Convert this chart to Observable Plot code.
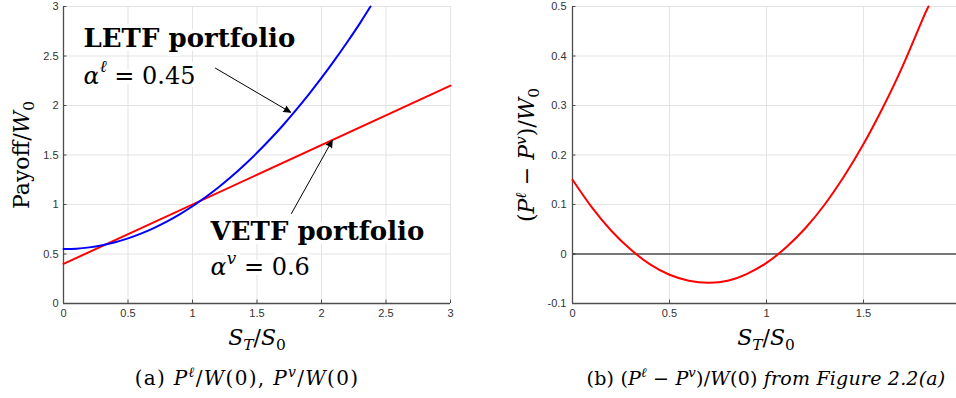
<!DOCTYPE html>
<html>
<head>
<meta charset="utf-8">
<script src="https://cdn.jsdelivr.net/npm/d3@7"></script>
<script src="https://cdn.jsdelivr.net/npm/@observablehq/plot@0.6"></script>
<style>
html, body { margin: 0; padding: 0; background: #fff; overflow: hidden; }
#wrap { position: relative; width: 956px; height: 398px; overflow: hidden; background: #fff; }
.panel { position: absolute; top: 0; }
.panel svg { max-width: none !important; display: block; }
.lbl { position: absolute; font-family: "DejaVu Serif", serif; color: #000; white-space: nowrap; line-height: 1; }
.lbl sub, .lbl sup { font-size: 70%; line-height: 0; }
.rot { transform: translate(-50%, -50%) rotate(-90deg); }
.ctr { transform: translate(-50%, -50%); }
</style>
</head>
<body>
<div id="wrap">
  <div class="panel" id="pa" style="left:0;width:480px"></div>
  <div class="panel" id="pb" style="left:480px;width:500px"></div>

  <div class="lbl rot" style="left:22px;top:155px;font-size:22px">Payoff/<i>W</i><sub>0</sub></div>
  <div class="lbl rot" style="left:527px;top:155px;font-size:22px">(<i>P</i><sup><i>ℓ</i></sup> − <i>P</i><sup><i>v</i></sup>)/<i>W</i><sub>0</sub></div>

  <div class="lbl ctr" style="left:257px;top:338px;font-size:22px"><i>S</i><sub><i>T</i></sub>/<i>S</i><sub>0</sub></div>
  <div class="lbl ctr" style="left:766px;top:338px;font-size:22px"><i>S</i><sub><i>T</i></sub>/<i>S</i><sub>0</sub></div>

  <div class="lbl ctr" style="left:247px;top:378px;font-size:20px;letter-spacing:1.3px">(a) <i>P</i><sup><i>ℓ</i></sup>/<i>W</i>(0), <i>P</i><sup><i>v</i></sup>/<i>W</i>(0)</div>
  <div class="lbl ctr" style="left:766px;top:378px;font-size:19px;letter-spacing:0.2px">(b) (<i>P</i><sup><i>ℓ</i></sup> − <i>P</i><sup><i>v</i></sup>)/<i>W</i>(0) <i>from Figure 2.2(a)</i></div>
</div>
<script>
// ---- Panel (a): payoffs ----
const letfX = [0, 0.1, 0.2, 0.3, 0.4, 0.5, 0.6, 0.7, 0.8, 0.9, 1.0, 1.1, 1.2, 1.3, 1.4, 1.5, 1.6, 1.7, 1.8, 1.9, 2.0, 2.1, 2.2, 2.3, 2.38];
const letfY = [0.55, 0.554, 0.567, 0.589, 0.619, 0.658, 0.706, 0.762, 0.826, 0.900, 0.982, 1.073, 1.172, 1.280, 1.397, 1.522, 1.656, 1.798, 1.950, 2.110, 2.278, 2.455, 2.641, 2.835, 3.0];
const vetfX = [0, 3];
const vetfY = [0.4, 2.2];

// ---- Panel (b): difference ----
const diffX = [0, 0.1, 0.2, 0.3, 0.4, 0.5, 0.6, 0.7, 0.8, 0.9, 1.0, 1.1, 1.2, 1.3, 1.4, 1.5, 1.6, 1.7, 1.8, 1.835];
const diffY = [0.15, 0.094, 0.047, 0.009, -0.021, -0.042, -0.054, -0.058, -0.054, -0.040, -0.018, 0.013, 0.052, 0.100, 0.157, 0.222, 0.296, 0.378, 0.470, 0.5];

// ---- Ticks ----
const xTicksA = [0, 0.5, 1, 1.5, 2, 2.5, 3];
const yTicksA = [0, 0.5, 1, 1.5, 2, 2.5, 3];
const xTicksB = [0, 0.5, 1, 1.5, 2];
const yTicksB = [-0.1, 0, 0.1, 0.2, 0.3, 0.4, 0.5];

// ---- Annotations (panel a, data coordinates) ----
const titleText = ["LETF portfolio", "VETF portfolio"];
const titleX = [0.155, 1.14];
const titleY = [2.586, 0.646];
const alphaText = ["*α*^{ℓ} = 0.45", "*α*^{v} = 0.6"];
const alphaX = [0.155, 1.14];
const alphaY = [2.222, 0.283];
const arrowX1 = [1.178, 1.767];
const arrowY1 = [2.377, 0.909];
const arrowX2 = [1.76, 2.083];
const arrowY2 = [1.932, 1.646];

const zip = (xs, ys) => xs.map((x, i) => ({x, y: ys[i]}));
const letf = zip(letfX, letfY);
const vetf = zip(vetfX, vetfY);
const diff = zip(diffX, diffY);
const titles = titleText.map((t, i) => ({t, x: titleX[i], y: titleY[i]}));
const alphas = alphaText.map((t, i) => ({t, x: alphaX[i], y: alphaY[i]}));
const arrows = arrowX1.map((_, i) => ({x1: arrowX1[i], y1: arrowY1[i], x2: arrowX2[i], y2: arrowY2[i]}));

const GRID = "#e3e3e3";
const AXIS = "#4d4d4d";
const baseStyle = {fontFamily: "'Liberation Sans', Arial, sans-serif", fontSize: "11px", color: "#333", background: "transparent", overflow: "visible"};

function richify(svg, fs) {
  svg.querySelectorAll("text").forEach(t => {
    const s = t.textContent;
    if (!/\^\{|_\{|\*/.test(s)) return;
    const parts = s.split(/(\^\{[^}]*\}|_\{[^}]*\}|\*[^*]*\*)/).filter(p => p);
    while (t.firstChild) t.removeChild(t.firstChild);
    let shift = 0;
    parts.forEach(p => {
      const ts = document.createElementNS("http://www.w3.org/2000/svg", "tspan");
      let content = p, dy = 0;
      if (p.startsWith("^{")) {
        content = p.slice(2, -1);
        ts.setAttribute("font-size", (fs * 0.7) + "px");
        ts.setAttribute("font-style", "italic");
        dy = -0.48 * fs;
      } else if (p.startsWith("_{")) {
        content = p.slice(2, -1);
        ts.setAttribute("font-size", (fs * 0.7) + "px");
        dy = 0.2 * fs;
      } else if (p.startsWith("*")) {
        content = p.slice(1, -1);
        ts.setAttribute("font-style", "italic");
      }
      const d = dy - shift;
      if (d !== 0) ts.setAttribute("dy", d);
      shift = dy;
      ts.textContent = content;
      t.appendChild(ts);
    });
  });
}

const A = Plot.plot({
  width: 480, height: 330,
  marginLeft: 63, marginRight: 30, marginTop: 6, marginBottom: 27,
  x: {domain: [0, 3]},
  y: {domain: [0, 3]},
  style: baseStyle,
  marks: [
    Plot.gridX(xTicksA, {stroke: GRID, strokeOpacity: 1}),
    Plot.gridY(yTicksA, {stroke: GRID, strokeOpacity: 1}),
    Plot.axisX(xTicksA, {tickSize: 0, tickPadding: 6, tickFormat: d => String(d), label: null}),
    Plot.axisY(yTicksA, {tickSize: 0, tickPadding: 5, tickFormat: d => String(d), label: null}),
    Plot.ruleX(xTicksA, {x: d => d, y1: 0, y2: 0.035, stroke: AXIS}),
    Plot.ruleY(yTicksA, {y: d => d, x1: 0, x2: 0.027, stroke: AXIS}),
    Plot.ruleX([0], {stroke: AXIS, strokeWidth: 1.3}),
    Plot.ruleY([0], {stroke: AXIS, strokeWidth: 1.3}),
    Plot.line(vetf, {x: "x", y: "y", stroke: "#ff0000", strokeWidth: 2}),
    Plot.line(letf, {x: "x", y: "y", stroke: "#0000ff", strokeWidth: 2, curve: "natural"}),
    Plot.text(titles, {x: "x", y: "y", text: "t", textAnchor: "start", lineAnchor: "bottom",
      fontFamily: "'DejaVu Serif', serif", fontWeight: "bold", fontSize: 26, fill: "black",
      stroke: "white", strokeWidth: 8}),
    Plot.text(alphas, {x: "x", y: "y", text: "t", textAnchor: "start", lineAnchor: "bottom",
      fontFamily: "'DejaVu Serif', serif", fontSize: 24, fill: "black",
      stroke: "white", strokeWidth: 8}),
    Plot.arrow(arrows, {x1: "x1", y1: "y1", x2: "x2", y2: "y2", stroke: "black", fill: "black",
      strokeWidth: 1, headLength: 11, headAngle: 50})
  ]
});
richify(A, 24);
document.getElementById("pa").appendChild(A);

const B = Plot.plot({
  width: 500, height: 330,
  marginLeft: 92, marginRight: 20, marginTop: 6, marginBottom: 27,
  x: {domain: [0, 2]},
  y: {domain: [-0.1, 0.5]},
  style: baseStyle,
  marks: [
    Plot.gridX(xTicksB, {stroke: GRID, strokeOpacity: 1}),
    Plot.gridY(yTicksB, {stroke: GRID, strokeOpacity: 1}),
    Plot.axisX(xTicksB, {tickSize: 0, tickPadding: 6, tickFormat: d => String(d), label: null}),
    Plot.axisY(yTicksB, {tickSize: 0, tickPadding: 6, tickFormat: d => String(d), label: null}),
    Plot.ruleX(xTicksB, {x: d => d, y1: -0.1, y2: -0.093, stroke: AXIS}),
    Plot.ruleY(yTicksB, {y: d => d, x1: 0, x2: 0.018, stroke: AXIS}),
    Plot.ruleY([0], {stroke: "#000", strokeWidth: 1.2}),
    Plot.ruleX([0], {stroke: AXIS, strokeWidth: 1.3}),
    Plot.ruleY([-0.1], {stroke: AXIS, strokeWidth: 1.3}),
    Plot.line(diff, {x: "x", y: "y", stroke: "#ff0000", strokeWidth: 2, curve: "natural"})
  ]
});
document.getElementById("pb").appendChild(B);
</script>
</body>
</html>
